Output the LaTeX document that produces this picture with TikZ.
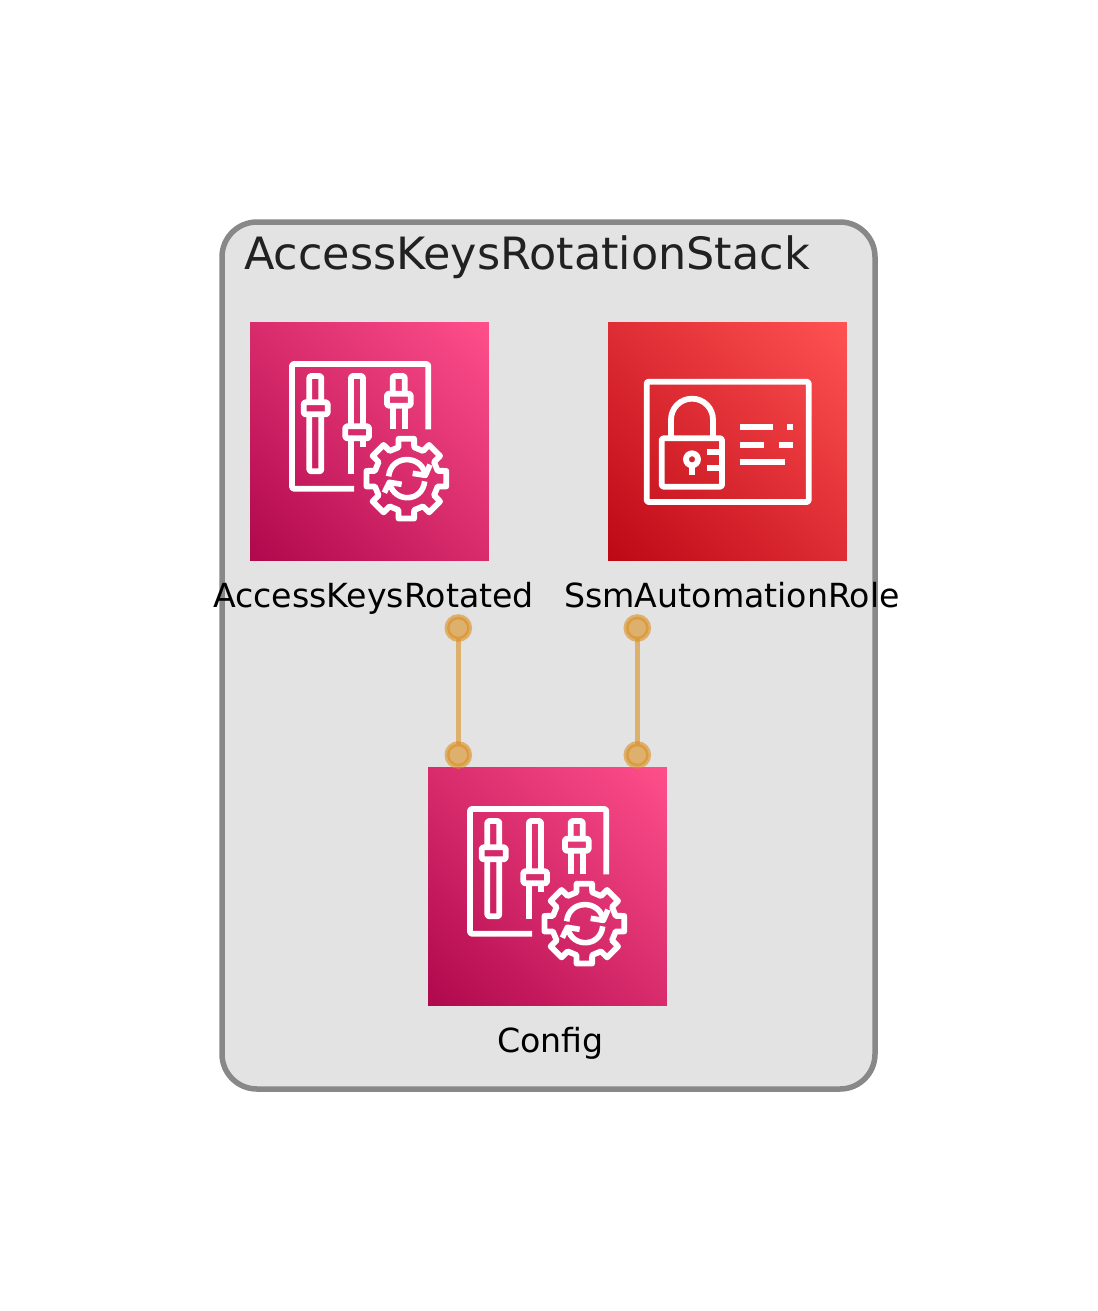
\documentclass[tikz,border=0pt]{standalone}
\usepackage{fontspec}
\setmainfont{DejaVu Sans}
\definecolor{framegray}{HTML}{888888}
\definecolor{framefill}{HTML}{E3E3E3}
\definecolor{pinkdark}{HTML}{B0084D}
\definecolor{pinklight}{HTML}{FF4F8B}
\definecolor{reddark}{HTML}{BD0816}
\definecolor{redlight}{HTML}{FF5252}
\definecolor{linkorange}{HTML}{DC8E20}
\pgfdeclareverticalshading{pinkdiag}{100bp}{color(0bp)=(pinkdark); color(14.6bp)=(pinkdark); color(85.4bp)=(pinklight); color(100bp)=(pinklight)}
\pgfdeclareverticalshading{reddiag}{100bp}{color(0bp)=(reddark); color(14.6bp)=(reddark); color(85.4bp)=(redlight); color(100bp)=(redlight)}
\tikzset{
  stackframe/.style={draw=framegray,fill=framefill,line width=5.5pt,rounded corners=35pt},
  iconbox/.style={minimum size=238.6pt,inner sep=0pt,outer sep=0pt},
  pinkbox/.style={iconbox,shade,shading=pinkdiag,shading angle=-45},
  redbox/.style={iconbox,shade,shading=reddiag,shading angle=-45},
  ic/.style={draw=white,line width=5.8pt,line join=round},
  titletext/.style={anchor=base west,inner sep=0pt,text=black!87,font=\fontsize{44.5}{50}\selectfont},
  labeltext/.style={anchor=base,inner sep=0pt,text=black,font=\fontsize{33.2}{38}\selectfont},
  dot/.style={circle,minimum size=22.6pt,inner sep=0pt,outer sep=0pt,fill=linkorange,fill opacity=.6},
  dotring/.style={draw=linkorange,draw opacity=.6,line width=5pt},
  link/.style={draw=linkorange,draw opacity=.6,line width=5.6pt},
  panelicon/.pic={
    \begin{scope}[x=.33333pt,y=-.33333pt,shift={(-358.5,-358.5)}]
      \path[ic,rounded corners=1.5pt] (535,322) -- (535,126) -- (126,126) -- (126,500) -- (312,500);
      % slider 1
      \path[ic,rounded corners=1.5pt] (178,241) -- (178,162) -- (214,162) -- (214,241);
      \path[ic,rounded corners=1.5pt] (178,277) -- (178,448) -- (214,448) -- (214,277);
      \path[ic,rounded corners=1.5pt] (161,241) rectangle (233,277);
      % slider 2
      \path[ic,rounded corners=1.5pt] (303,313) -- (303,162) -- (339,162) -- (339,313);
      \path[ic] (303,349) -- (303,455);
      \path[ic] (339,349) -- (339,375);
      \path[ic,rounded corners=1.5pt] (286,313) rectangle (357,349);
      % slider 3
      \path[ic,rounded corners=1.5pt] (428,215) -- (428,162) -- (464,162) -- (464,215);
      \path[ic] (428,251) -- (428,322);
      \path[ic] (464,251) -- (464,322);
      \path[ic,rounded corners=1.5pt] (411,215) rectangle (482,251);
      % gear
      \begin{scope}[shift={(469,470)}]
        \path[ic] (-14:97) \foreach \a in {0,45,...,315} { -- (\a-14:97) -- (\a-11:122) -- (\a+11:122) -- (\a+14:97) } -- cycle;
      \end{scope}
      % rotating arrows
      \path[ic,line width=5.6pt] (416,463) .. controls (423,398) and (510,398) .. (524,452);
      \path[ic,line width=5.6pt] (540,428) -- (526,460) -- (488,454);
      \path[ic,line width=5.6pt] (524,478) .. controls (517,542) and (433,542) .. (420,486);
      \path[ic,line width=5.6pt] (403,512) -- (418,481) -- (455,487);
    \end{scope}
  },
  roleicon/.pic={
    \begin{scope}[x=.33333pt,y=-.33333pt,shift={(-358.5,-358.5)}]
      \path[ic,rounded corners=1.5pt] (116,179) rectangle (602,540);
      % shackle
      \path[ic] (189,345) -- (189,293) .. controls (189,258) and (217,230) .. (252,230) .. controls (287,230) and (315,258) .. (315,293) -- (315,345);
      % lock body
      \path[ic,rounded corners=1.5pt] (161,349) rectangle (342,494);
      \path[ic] (296,391) -- (342,391);
      \path[ic] (296,439) -- (342,439);
      % keyhole
      \path[ic] (252,412) circle (18);
      \path[ic,line width=6pt] (252,430) -- (252,458);
      % text lines
      \path[ic,line width=6pt] (395,314) -- (494,314);
      \path[ic,line width=6pt] (538,314) -- (556,314);
      \path[ic,line width=6pt] (395,368) -- (467,368);
      \path[ic,line width=6pt] (512,368) -- (556,368);
      \path[ic,line width=6pt] (395,421) -- (530,421);
    \end{scope}
  }
}
\begin{document}
\begin{tikzpicture}[x=1pt,y=-1pt]
  \useasboundingbox (0,0) rectangle (1097,1311);
  \path[stackframe] (222,222) rectangle (875,1089);
  \node[titletext] (title) at (244,269.5) {AccessKeysRotationStack};

  \node[pinkbox] (rotated) at (369.5,441.5) {};
  \node[redbox] (role) at (727.5,441.5) {};
  \node[pinkbox] (config) at (547.5,886.5) {};
  \pic at (rotated.center) {panelicon};
  \pic at (role.center) {roleicon};
  \pic at (config.center) {panelicon};

  \node[labeltext] (rotatedlabel) at (373.5,607.5) {AccessKeysRotated};
  \node[labeltext] (rolelabel) at (732,607.5) {SsmAutomationRole};
  \node[labeltext] (configlabel) at (550.5,1052.5) {Config};

  \node[dot] (d1a) at (458.3,628) {};
  \node[dot] (d1b) at (458.3,755) {};
  \node[dot] (d2a) at (637.3,628) {};
  \node[dot] (d2b) at (637.3,755) {};
  \foreach \d in {d1a,d1b,d2a,d2b} \path[dotring] (\d.center) circle (11.3);
  \path[link] (d1a) -- (d1b);
  \path[link] (d2a) -- (d2b);
\end{tikzpicture}
\end{document}
